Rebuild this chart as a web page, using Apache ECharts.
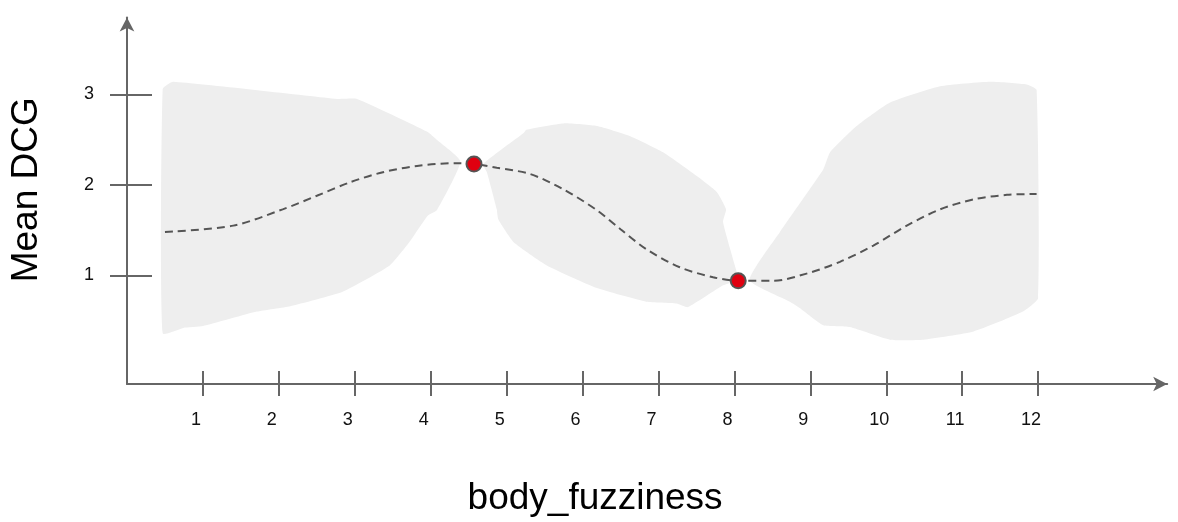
<!DOCTYPE html>
<html>
<head>
<meta charset="utf-8">
<script src="https://cdn.jsdelivr.net/npm/echarts@6/dist/echarts.min.js"></script>
<style>html,body{margin:0;padding:0;background:#fff}#c{width:1178px;height:522px}</style>
</head>
<body>
<div id="c"></div>
<script>
// ---- data (axis units) ----
const xTicks = [1, 2, 3, 4, 5, 6, 7, 8, 9, 10, 11, 12];
const yTicks = [1, 2, 3];
const xName = 'body_fuzziness';
const yName = 'Mean DCG';

const meanX = [0.50, 1.40, 2.05, 2.50, 2.94, 3.37, 3.82, 4.34, 4.57, 4.87, 5.31, 5.75, 6.19, 6.50, 6.84, 7.28, 7.72, 8.05, 8.51, 8.95, 9.39, 9.83, 10.27, 10.71, 11.15, 11.59, 11.98];
const meanY = [1.48, 1.55, 1.73, 1.88, 2.03, 2.14, 2.21, 2.24, 2.23, 2.19, 2.12, 1.95, 1.72, 1.51, 1.29, 1.09, 0.98, 0.94, 0.94, 1.02, 1.15, 1.33, 1.55, 1.73, 1.84, 1.89, 1.90];

const pointX = [4.57, 8.05];
const pointY = [2.23, 0.94];

// confidence band pieces: upper edge (left->right), lower edge (left->right)
const band1Upper = [[0.47, 3.06], [0.61, 3.14], [2.77, 2.95], [3.03, 2.95], [3.95, 2.59], [4.08, 2.50], [4.39, 2.26]];
const band1Lower = [[0.47, 0.36], [0.74, 0.42], [1.00, 0.44], [1.71, 0.60], [2.15, 0.66], [2.84, 0.82], [3.46, 1.11], [3.73, 1.38], [3.96, 1.66], [4.08, 1.72]];

const band2Upper = [[4.69, 2.23], [5.22, 2.57], [5.26, 2.61], [5.75, 2.68], [6.19, 2.65], [6.62, 2.54], [7.06, 2.36], [7.50, 2.10], [7.77, 1.92], [7.89, 1.73], [7.85, 1.59], [8.03, 1.04], [8.05, 0.95]];
const band2Lower = [[4.74, 2.14], [4.87, 1.73], [4.89, 1.62], [5.09, 1.37], [5.53, 1.11], [6.19, 0.86], [6.84, 0.71], [7.24, 0.69], [7.39, 0.65], [7.85, 0.89]];

const band3Upper = [[8.20, 0.95], [8.60, 1.48], [9.17, 2.17], [9.26, 2.36], [9.61, 2.65], [10.05, 2.91], [10.71, 3.09], [11.37, 3.14], [11.85, 3.11], [11.98, 3.05], [12.00, 0.75]];
const band3Lower = [[8.73, 0.71], [8.86, 0.64], [9.17, 0.45], [9.52, 0.43], [10.05, 0.29], [10.49, 0.29], [11.15, 0.38], [11.80, 0.60]];

const bandPieces = [
  band1Upper.concat(band1Lower.slice().reverse()),
  band2Upper.concat(band2Lower.slice().reverse()),
  band3Upper.concat(band3Lower.slice().reverse())
];

// ---- chart ----
const FONT = '"Liberation Sans", Arial, sans-serif';
const AX = '#666666';
const chart = echarts.init(document.getElementById('c'), null, { renderer: 'canvas' });

const xBase = {
  type: 'value', min: 0, max: 13.7, position: 'bottom',
  splitLine: { show: false }
};
const yBase = {
  type: 'value', min: -0.2, max: 3.85, position: 'left',
  splitLine: { show: false }
};

chart.setOption({
  animation: false,
  backgroundColor: '#ffffff',
  grid: { left: 127, right: 10.8, top: 17.5, bottom: 136 },
  xAxis: [
    Object.assign({}, xBase, {
      name: xName, nameLocation: 'middle', nameGap: 96,
      nameTextStyle: { fontSize: 37, color: '#000', fontFamily: FONT, padding: [0, 104, 0, 0] },
      axisLine: { show: true, onZero: false, symbol: ['none', 'arrow'], symbolSize: [11, 14], lineStyle: { color: AX, width: 2 } },
      axisTick: { show: true, inside: false, length: 12, customValues: xTicks, lineStyle: { color: AX, width: 2 } },
      axisLabel: { show: true, customValues: xTicks, margin: 27, fontSize: 18, color: '#111', fontFamily: FONT, padding: [0, 14, 0, 0] }
    }),
    Object.assign({}, xBase, {
      axisLine: { show: false, onZero: false },
      axisTick: { show: true, inside: true, length: 13, customValues: xTicks, lineStyle: { color: AX, width: 2 } },
      axisLabel: { show: false }
    })
  ],
  yAxis: [
    Object.assign({}, yBase, {
      name: yName, nameLocation: 'middle', nameGap: 82, nameRotate: 90,
      nameTextStyle: { fontSize: 37, color: '#000', fontFamily: FONT, padding: [0, 0, 0, 22] },
      axisLine: { show: true, onZero: false, symbol: ['none', 'arrow'], symbolSize: [11, 14], lineStyle: { color: AX, width: 2 } },
      axisTick: { show: true, inside: false, length: 17, customValues: yTicks, lineStyle: { color: AX, width: 2 } },
      axisLabel: { show: true, customValues: yTicks, margin: 33, fontSize: 18, color: '#111', fontFamily: FONT }
    }),
    Object.assign({}, yBase, {
      axisLine: { show: false, onZero: false },
      axisTick: { show: true, inside: true, length: 25, customValues: yTicks, lineStyle: { color: AX, width: 2 } },
      axisLabel: { show: false }
    })
  ],
  series: [
    {
      type: 'custom',
      xAxisIndex: 0, yAxisIndex: 0,
      clip: false,
      silent: true,
      z: 1,
      data: bandPieces.map((p, i) => [p[0][0], p[0][1], i]),
      renderItem: function (params, api) {
        const pts = bandPieces[params.dataIndex].map(v => api.coord(v));
        return {
          type: 'polygon',
          shape: { points: pts, smooth: 0.15 },
          style: { fill: '#eeeeee', stroke: null }
        };
      }
    },
    {
      type: 'line',
      xAxisIndex: 0, yAxisIndex: 0,
      z: 3,
      smooth: 0.3,
      symbol: 'none',
      lineStyle: { color: '#555555', width: 2, type: [8, 5] },
      data: meanX.map((x, i) => [x, meanY[i]])
    },
    {
      type: 'scatter',
      xAxisIndex: 0, yAxisIndex: 0,
      z: 4,
      symbolSize: 15,
      itemStyle: { color: '#e00010', borderColor: '#555555', borderWidth: 2, opacity: 1 },
      data: pointX.map((x, i) => [x, pointY[i]])
    }
  ]
});
</script>
</body>
</html>
